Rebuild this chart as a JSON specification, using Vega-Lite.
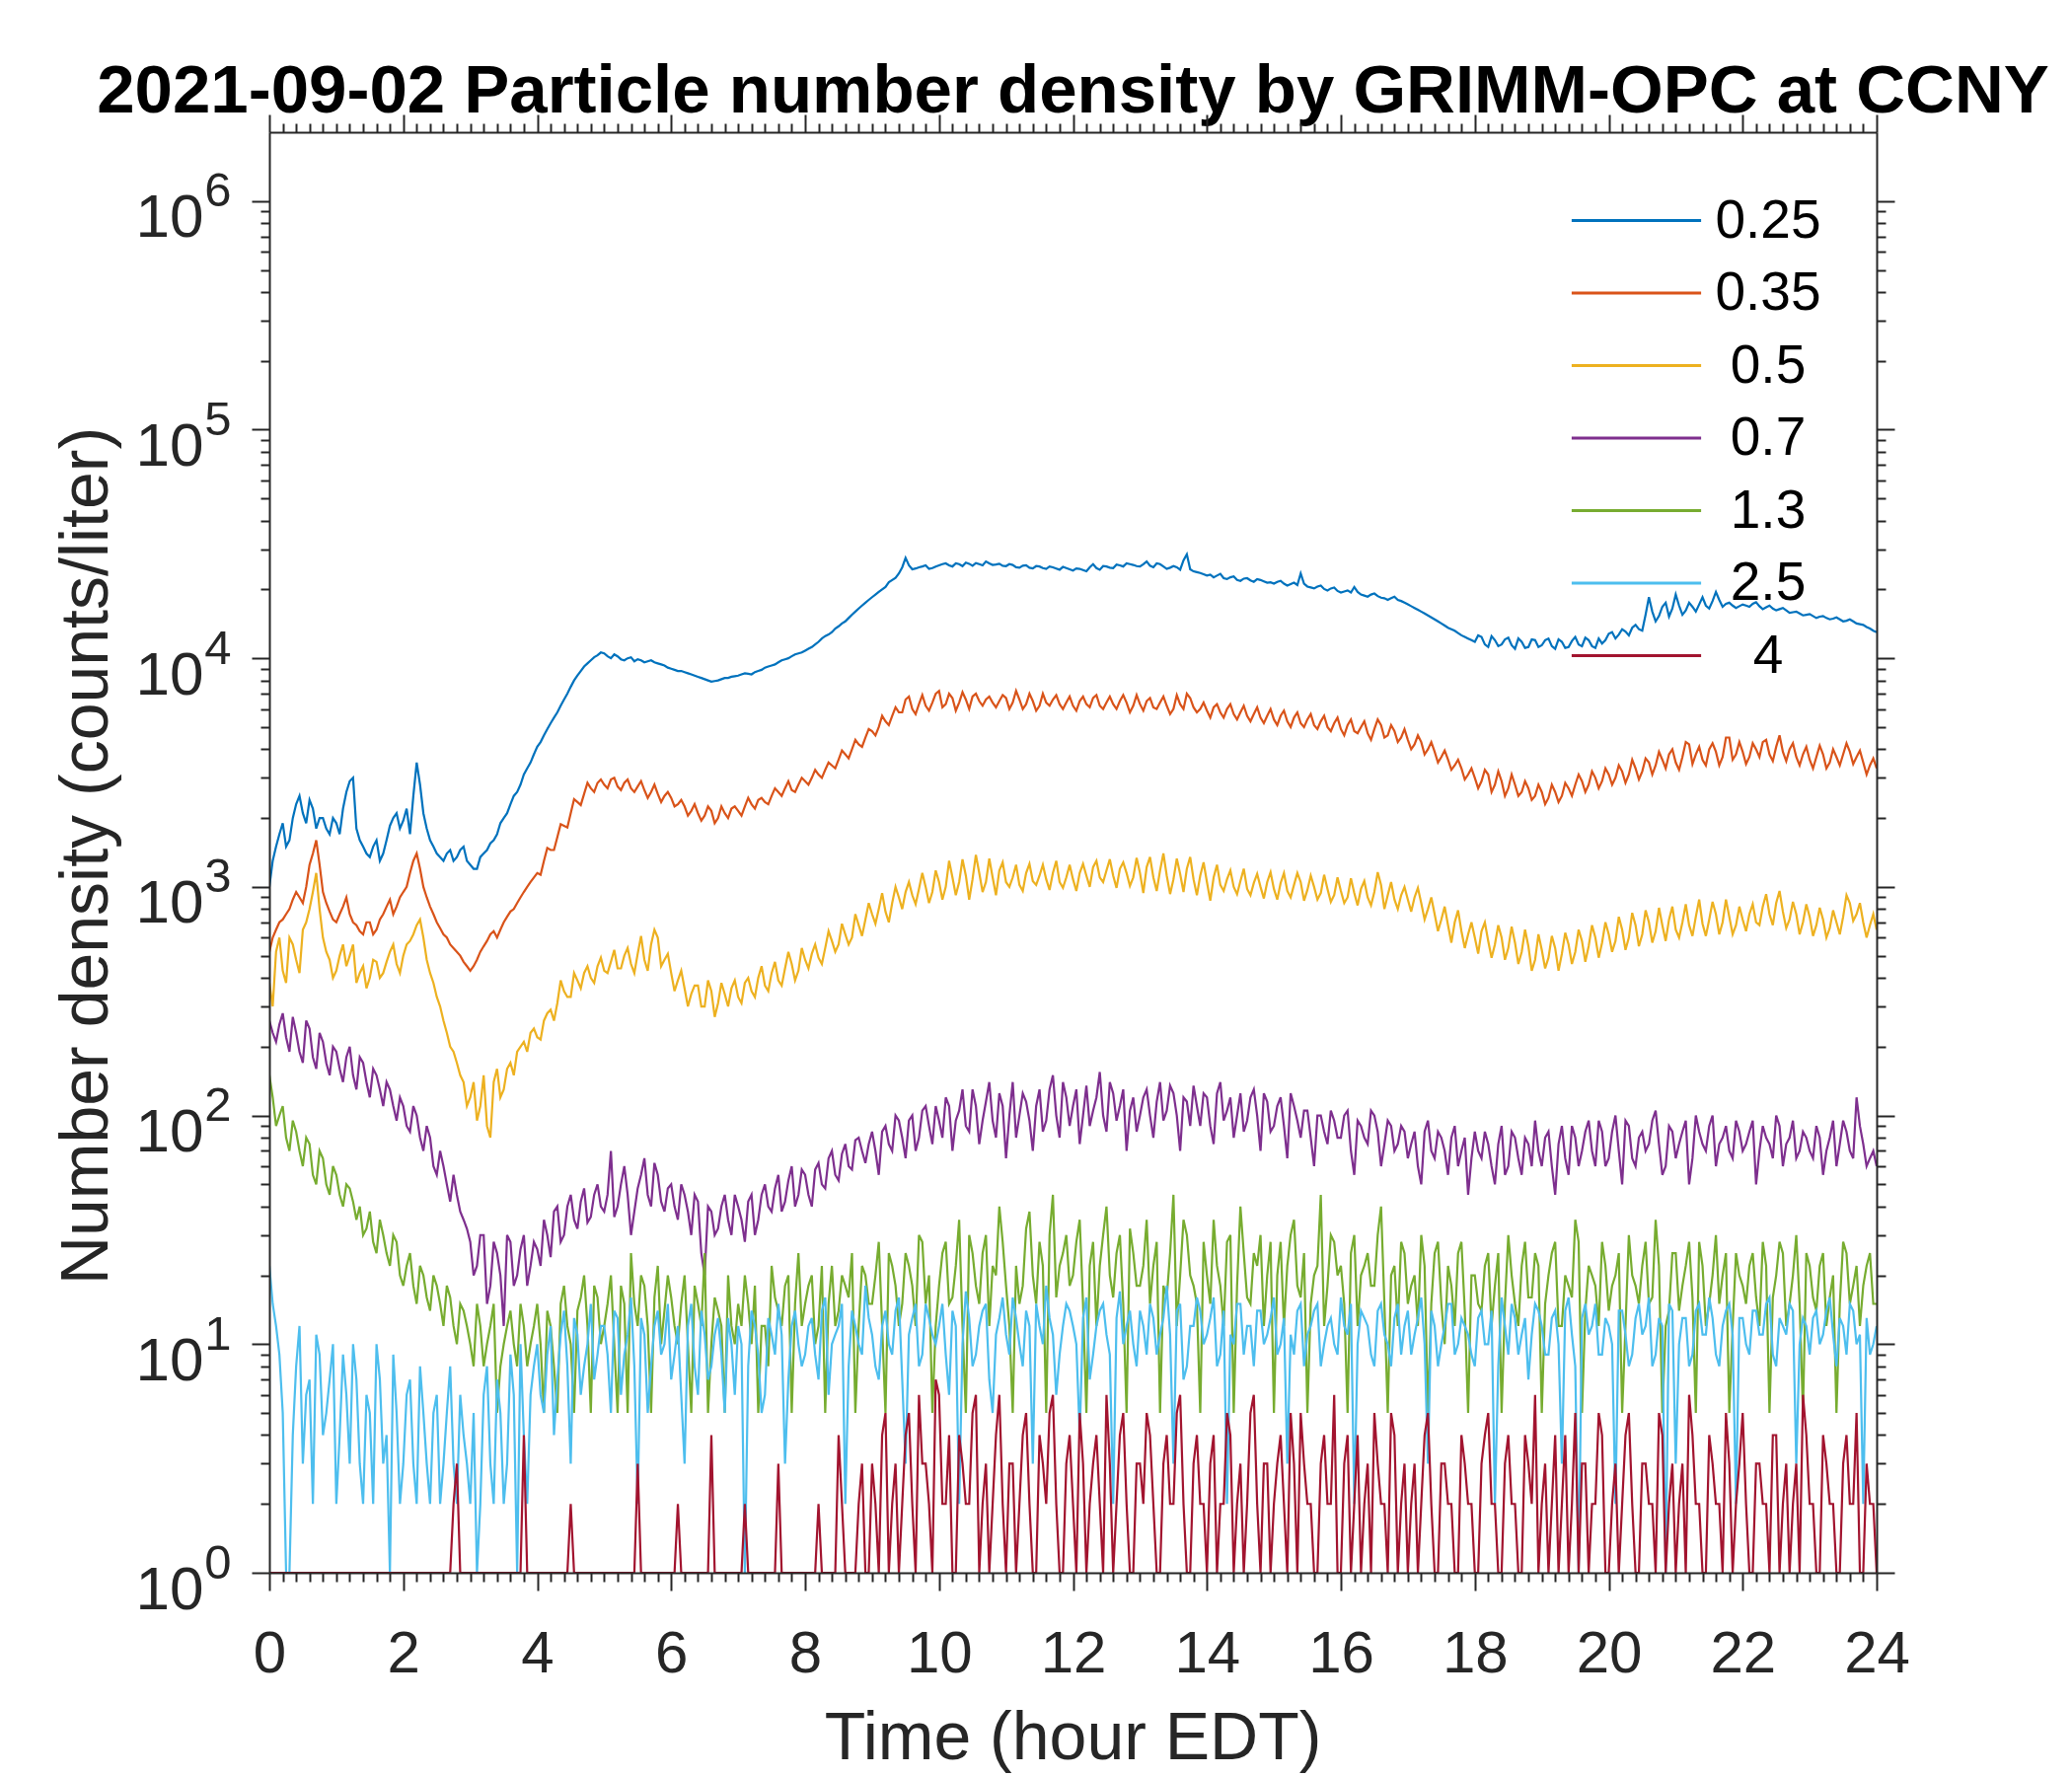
{
  "$schema": "https://vega.github.io/schema/vega-lite/v6.json",
  "width": 1629,
  "height": 1460,
  "autosize": "none",
  "padding": {"left": 273, "top": 134, "right": 198, "bottom": 206},
  "background": "white",
  "config": {"font": "Liberation Sans", "view": {"stroke": null}, "axis": {"grid": false}},
  "title": {
    "text": "2021-09-02 Particle number density by GRIMM-OPC at CCNY",
    "fontSize": 69, "fontWeight": "bold", "color": "#000000",
    "anchor": "middle", "frame": "group", "baseline": "alphabetic", "offset": -68
  },
  "data": {"values": [
{"t":0,"a":1000,"b":520,"c":380,"d":260,"e":150,"f":22,"g":1},
{"t":0.1,"a":1500,"b":650,"c":520,"d":210,"e":90,"f":12,"g":1},
{"t":0.2,"a":1900,"b":720,"c":430,"d":280,"e":110,"f":5,"g":1},
{"t":0.3,"a":1600,"b":800,"c":600,"d":190,"e":70,"f":1,"g":1},
{"t":0.4,"a":2300,"b":950,"c":480,"d":230,"e":85,"f":8,"g":1},
{"t":0.5,"a":2100,"b":850,"c":650,"d":170,"e":60,"f":3,"g":1},
{"t":0.6,"a":2400,"b":1250,"c":800,"d":240,"e":75,"f":7,"g":1},
{"t":0.7,"a":1800,"b":1600,"c":1150,"d":160,"e":50,"f":11,"g":1},
{"t":0.8,"a":2000,"b":950,"c":600,"d":210,"e":65,"f":4,"g":1},
{"t":0.9,"a":1700,"b":780,"c":480,"d":150,"e":45,"f":7,"g":1},
{"t":1,"a":1900,"b":700,"c":430,"d":190,"e":55,"f":2,"g":1},
{"t":1.1,"a":2200,"b":820,"c":560,"d":140,"e":40,"f":9,"g":1},
{"t":1.2,"a":2900,"b":760,"c":500,"d":200,"e":48,"f":3,"g":1},
{"t":1.3,"a":1800,"b":680,"c":380,"d":130,"e":35,"f":7,"g":1},
{"t":1.4,"a":1500,"b":620,"c":450,"d":170,"e":30,"f":2,"g":1},
{"t":1.5,"a":1350,"b":700,"c":400,"d":120,"e":38,"f":5,"g":1},
{"t":1.6,"a":1600,"b":650,"c":470,"d":150,"e":25,"f":10,"g":1},
{"t":1.7,"a":1400,"b":760,"c":420,"d":110,"e":30,"f":3,"g":1},
{"t":1.8,"a":1850,"b":880,"c":520,"d":130,"e":22,"f":1,"g":1},
{"t":1.9,"a":2100,"b":820,"c":460,"d":95,"e":28,"f":5,"g":1},
{"t":2,"a":1950,"b":950,"c":500,"d":110,"e":18,"f":3,"g":1},
{"t":2.1,"a":1700,"b":1150,"c":580,"d":85,"e":25,"f":7,"g":1},
{"t":2.2,"a":3500,"b":1400,"c":680,"d":100,"e":15,"f":2,"g":1},
{"t":2.3,"a":2100,"b":1000,"c":600,"d":70,"e":20,"f":5,"g":1},
{"t":2.4,"a":1600,"b":820,"c":420,"d":80,"e":14,"f":2,"g":1},
{"t":2.5,"a":1400,"b":700,"c":330,"d":55,"e":18,"f":6,"g":1},
{"t":2.6,"a":1300,"b":620,"c":260,"d":60,"e":12,"f":3,"g":1},
{"t":2.7,"a":1450,"b":560,"c":200,"d":42,"e":16,"f":8,"g":1},
{"t":2.8,"a":1350,"b":520,"c":170,"d":45,"e":10,"f":2,"g":3},
{"t":2.9,"a":1500,"b":470,"c":140,"d":35,"e":14,"f":4,"g":1},
{"t":3,"a":1250,"b":430,"c":120,"d":28,"e":10,"f":2,"g":1},
{"t":3.1,"a":1200,"b":480,"c":95,"d":22,"e":15,"f":1,"g":1},
{"t":3.2,"a":1400,"b":550,"c":150,"d":30,"e":8,"f":6,"g":1},
{"t":3.3,"a":1550,"b":620,"c":80,"d":18,"e":12,"f":3,"g":1},
{"t":3.4,"a":1700,"b":600,"c":160,"d":25,"e":5,"f":7,"g":1},
{"t":3.5,"a":2000,"b":700,"c":130,"d":12,"e":10,"f":2,"g":1},
{"t":3.6,"a":2300,"b":780,"c":170,"d":28,"e":14,"f":9,"g":1},
{"t":3.7,"a":2600,"b":850,"c":190,"d":20,"e":8,"f":1,"g":1},
{"t":3.8,"a":3100,"b":950,"c":210,"d":30,"e":12,"f":4,"g":4},
{"t":3.9,"a":3500,"b":1050,"c":230,"d":22,"e":10,"f":6,"g":1},
{"t":4,"a":4100,"b":1150,"c":220,"d":26,"e":15,"f":10,"g":1},
{"t":4.1,"a":4600,"b":1300,"c":260,"d":35,"e":5,"f":5,"g":1},
{"t":4.2,"a":5200,"b":1450,"c":290,"d":24,"e":12,"f":12,"g":1},
{"t":4.3,"a":5800,"b":1650,"c":310,"d":40,"e":5,"f":7,"g":1},
{"t":4.4,"a":6600,"b":1850,"c":350,"d":30,"e":18,"f":14,"g":1},
{"t":4.5,"a":7500,"b":2100,"c":330,"d":45,"e":10,"f":3,"g":2},
{"t":4.6,"a":8400,"b":2350,"c":390,"d":32,"e":14,"f":11,"g":1},
{"t":4.7,"a":9200,"b":2550,"c":420,"d":48,"e":20,"f":8,"g":1},
{"t":4.8,"a":9800,"b":2700,"c":400,"d":36,"e":5,"f":15,"g":1},
{"t":4.9,"a":10300,"b":2850,"c":450,"d":50,"e":16,"f":9,"g":1},
{"t":5,"a":10500,"b":2800,"c":430,"d":38,"e":12,"f":12,"g":1},
{"t":5.1,"a":10000,"b":2950,"c":470,"d":70,"e":20,"f":5,"g":1},
{"t":5.2,"a":10200,"b":2750,"c":440,"d":40,"e":5,"f":13,"g":1},
{"t":5.3,"a":9800,"b":2850,"c":500,"d":60,"e":15,"f":9,"g":1},
{"t":5.4,"a":10100,"b":2700,"c":460,"d":30,"e":25,"f":16,"g":1},
{"t":5.5,"a":9900,"b":2750,"c":510,"d":48,"e":12,"f":2,"g":3},
{"t":5.6,"a":9600,"b":2650,"c":480,"d":65,"e":18,"f":11,"g":1},
{"t":5.7,"a":9800,"b":2600,"c":560,"d":40,"e":5,"f":8,"g":1},
{"t":5.8,"a":9500,"b":2550,"c":600,"d":55,"e":22,"f":14,"g":1},
{"t":5.9,"a":9300,"b":2500,"c":480,"d":38,"e":14,"f":10,"g":1},
{"t":6,"a":9000,"b":2450,"c":420,"d":50,"e":16,"f":7,"g":1},
{"t":6.1,"a":8800,"b":2300,"c":390,"d":35,"e":10,"f":12,"g":2},
{"t":6.2,"a":8700,"b":2250,"c":360,"d":45,"e":20,"f":3,"g":1},
{"t":6.3,"a":8500,"b":2150,"c":340,"d":30,"e":5,"f":15,"g":1},
{"t":6.4,"a":8300,"b":2100,"c":370,"d":42,"e":15,"f":6,"g":1},
{"t":6.5,"a":8100,"b":2050,"c":300,"d":20,"e":25,"f":11,"g":1},
{"t":6.6,"a":7900,"b":2150,"c":350,"d":38,"e":10,"f":8,"g":4},
{"t":6.7,"a":8000,"b":2000,"c":310,"d":32,"e":14,"f":13,"g":1},
{"t":6.8,"a":8200,"b":2100,"c":340,"d":45,"e":5,"f":5,"g":1},
{"t":6.9,"a":8300,"b":2200,"c":360,"d":30,"e":12,"f":10,"g":1},
{"t":7,"a":8400,"b":2150,"c":330,"d":40,"e":15,"f":12,"g":1},
{"t":7.1,"a":8600,"b":2250,"c":380,"d":28,"e":20,"f":1,"g":2},
{"t":7.2,"a":8500,"b":2300,"c":350,"d":45,"e":10,"f":14,"g":1},
{"t":7.3,"a":8800,"b":2400,"c":400,"d":35,"e":5,"f":9,"g":1},
{"t":7.4,"a":9100,"b":2350,"c":370,"d":50,"e":12,"f":6,"g":1},
{"t":7.5,"a":9300,"b":2500,"c":420,"d":38,"e":22,"f":11,"g":1},
{"t":7.6,"a":9600,"b":2600,"c":390,"d":55,"e":14,"f":15,"g":3},
{"t":7.7,"a":9900,"b":2700,"c":440,"d":42,"e":18,"f":3,"g":1},
{"t":7.8,"a":10200,"b":2650,"c":460,"d":60,"e":5,"f":12,"g":1},
{"t":7.9,"a":10500,"b":2800,"c":430,"d":45,"e":25,"f":10,"g":1},
{"t":8,"a":10800,"b":2900,"c":480,"d":55,"e":15,"f":9,"g":1},
{"t":8.1,"a":11200,"b":3000,"c":510,"d":40,"e":20,"f":13,"g":1},
{"t":8.2,"a":11800,"b":3100,"c":490,"d":62,"e":12,"f":7,"g":2},
{"t":8.3,"a":12500,"b":3250,"c":540,"d":48,"e":5,"f":16,"g":1},
{"t":8.4,"a":13000,"b":3400,"c":580,"d":70,"e":22,"f":10,"g":1},
{"t":8.5,"a":13800,"b":3600,"c":560,"d":52,"e":14,"f":12,"g":4},
{"t":8.6,"a":14500,"b":3800,"c":620,"d":75,"e":18,"f":2,"g":1},
{"t":8.7,"a":15500,"b":4000,"c":600,"d":58,"e":25,"f":14,"g":1},
{"t":8.8,"a":16500,"b":4200,"c":680,"d":80,"e":12,"f":10,"g":2},
{"t":8.9,"a":17500,"b":4500,"c":720,"d":62,"e":20,"f":18,"g":1},
{"t":9,"a":18500,"b":4800,"c":760,"d":85,"e":15,"f":11,"g":3},
{"t":9.1,"a":19500,"b":5000,"c":800,"d":55,"e":28,"f":7,"g":1},
{"t":9.2,"a":20500,"b":5300,"c":780,"d":90,"e":5,"f":14,"g":5},
{"t":9.3,"a":22000,"b":5600,"c":850,"d":70,"e":22,"f":9,"g":2},
{"t":9.4,"a":23500,"b":5800,"c":900,"d":95,"e":12,"f":16,"g":1},
{"t":9.5,"a":27500,"b":6600,"c":950,"d":65,"e":25,"f":3,"g":4},
{"t":9.6,"a":24500,"b":6000,"c":920,"d":100,"e":18,"f":13,"g":2},
{"t":9.7,"a":25000,"b":6300,"c":980,"d":80,"e":30,"f":8,"g":6},
{"t":9.8,"a":25500,"b":6200,"c":1000,"d":110,"e":15,"f":15,"g":3},
{"t":9.9,"a":24800,"b":6400,"c":950,"d":75,"e":5,"f":11,"g":1},
{"t":10,"a":25500,"b":7200,"c":1050,"d":95,"e":18,"f":12,"g":6},
{"t":10.1,"a":26000,"b":6300,"c":1000,"d":120,"e":28,"f":9,"g":2},
{"t":10.2,"a":25200,"b":6700,"c":1100,"d":70,"e":16,"f":14,"g":1},
{"t":10.3,"a":25800,"b":6400,"c":1050,"d":105,"e":35,"f":2,"g":4},
{"t":10.4,"a":26200,"b":6600,"c":1120,"d":90,"e":5,"f":17,"g":2},
{"t":10.5,"a":25400,"b":6800,"c":1080,"d":130,"e":25,"f":8,"g":5},
{"t":10.6,"a":25800,"b":6500,"c":1150,"d":75,"e":15,"f":12,"g":1},
{"t":10.7,"a":26500,"b":6600,"c":1050,"d":115,"e":30,"f":15,"g":3},
{"t":10.8,"a":25600,"b":6400,"c":1100,"d":95,"e":22,"f":5,"g":2},
{"t":10.9,"a":25900,"b":6500,"c":1180,"d":125,"e":40,"f":13,"g":6},
{"t":11,"a":25300,"b":6700,"c":1050,"d":65,"e":18,"f":11,"g":1},
{"t":11.1,"a":25600,"b":6400,"c":1100,"d":140,"e":5,"f":16,"g":3},
{"t":11.2,"a":24900,"b":6600,"c":1020,"d":100,"e":15,"f":10,"g":2},
{"t":11.3,"a":25500,"b":6300,"c":1150,"d":115,"e":32,"f":14,"g":5},
{"t":11.4,"a":24700,"b":6500,"c":1060,"d":70,"e":20,"f":3,"g":1},
{"t":11.5,"a":25200,"b":6200,"c":1120,"d":130,"e":28,"f":12,"g":4},
{"t":11.6,"a":24600,"b":6400,"c":1080,"d":95,"e":5,"f":18,"g":2},
{"t":11.7,"a":25000,"b":6600,"c":1150,"d":150,"e":45,"f":11,"g":6},
{"t":11.8,"a":24400,"b":6300,"c":1050,"d":80,"e":22,"f":9,"g":1},
{"t":11.9,"a":24800,"b":6400,"c":1100,"d":120,"e":30,"f":15,"g":3},
{"t":12,"a":24200,"b":6200,"c":1080,"d":110,"e":20,"f":12,"g":2},
{"t":12.1,"a":24600,"b":6500,"c":1150,"d":75,"e":35,"f":4,"g":5},
{"t":12.2,"a":24000,"b":6300,"c":1120,"d":135,"e":5,"f":16,"g":1},
{"t":12.3,"a":25800,"b":6700,"c":1220,"d":105,"e":28,"f":9,"g":3},
{"t":12.4,"a":24400,"b":6200,"c":1100,"d":155,"e":22,"f":14,"g":2},
{"t":12.5,"a":25200,"b":6400,"c":1180,"d":85,"e":40,"f":11,"g":6},
{"t":12.6,"a":24800,"b":6300,"c":1120,"d":125,"e":16,"f":2,"g":1},
{"t":12.7,"a":25500,"b":6500,"c":1200,"d":110,"e":30,"f":17,"g":4},
{"t":12.8,"a":26000,"b":6400,"c":1150,"d":70,"e":5,"f":12,"g":2},
{"t":12.9,"a":25600,"b":6200,"c":1100,"d":120,"e":25,"f":10,"g":1},
{"t":13,"a":25200,"b":6300,"c":1150,"d":100,"e":18,"f":14,"g":3},
{"t":13.1,"a":26500,"b":6500,"c":1220,"d":130,"e":35,"f":9,"g":5},
{"t":13.2,"a":25000,"b":6100,"c":1100,"d":80,"e":22,"f":13,"g":2},
{"t":13.3,"a":25800,"b":6400,"c":1180,"d":140,"e":5,"f":11,"g":1},
{"t":13.4,"a":24600,"b":6200,"c":1120,"d":105,"e":16,"f":18,"g":4},
{"t":13.5,"a":25300,"b":6000,"c":1080,"d":125,"e":45,"f":3,"g":2},
{"t":13.6,"a":24400,"b":6300,"c":1140,"d":70,"e":20,"f":15,"g":6},
{"t":13.7,"a":28500,"b":7000,"c":1200,"d":115,"e":30,"f":8,"g":1},
{"t":13.8,"a":24000,"b":6100,"c":1080,"d":135,"e":18,"f":12,"g":3},
{"t":13.9,"a":23600,"b":6000,"c":1120,"d":90,"e":5,"f":14,"g":2},
{"t":14,"a":23000,"b":5900,"c":1050,"d":120,"e":20,"f":11,"g":1},
{"t":14.1,"a":22600,"b":6100,"c":1100,"d":75,"e":35,"f":16,"g":4},
{"t":14.2,"a":23400,"b":5800,"c":1020,"d":140,"e":18,"f":9,"g":2},
{"t":14.3,"a":22200,"b":6000,"c":1080,"d":105,"e":28,"f":2,"g":5},
{"t":14.4,"a":22800,"b":5700,"c":1000,"d":80,"e":5,"f":10,"g":1},
{"t":14.5,"a":21800,"b":5800,"c":1060,"d":125,"e":40,"f":15,"g":3},
{"t":14.6,"a":22400,"b":5600,"c":980,"d":95,"e":16,"f":12,"g":2},
{"t":14.7,"a":21600,"b":5700,"c":1040,"d":130,"e":25,"f":8,"g":6},
{"t":14.8,"a":22000,"b":5500,"c":1000,"d":70,"e":30,"f":14,"g":1},
{"t":14.9,"a":21400,"b":5600,"c":1050,"d":115,"e":20,"f":11,"g":3},
{"t":15,"a":21200,"b":5400,"c":980,"d":90,"e":5,"f":16,"g":2},
{"t":15.1,"a":21800,"b":5600,"c":1040,"d":120,"e":28,"f":10,"g":4},
{"t":15.2,"a":20800,"b":5300,"c":960,"d":65,"e":22,"f":3,"g":1},
{"t":15.3,"a":21400,"b":5500,"c":1020,"d":110,"e":35,"f":9,"g":3},
{"t":15.4,"a":23500,"b":5200,"c":1050,"d":80,"e":16,"f":15,"g":5},
{"t":15.5,"a":20600,"b":5400,"c":970,"d":105,"e":5,"f":11,"g":2},
{"t":15.6,"a":20200,"b":5100,"c":1000,"d":60,"e":20,"f":14,"g":1},
{"t":15.7,"a":20800,"b":5300,"c":940,"d":100,"e":45,"f":8,"g":3},
{"t":15.8,"a":19800,"b":5000,"c":980,"d":75,"e":18,"f":12,"g":2},
{"t":15.9,"a":20400,"b":5200,"c":920,"d":95,"e":28,"f":10,"g":6},
{"t":16,"a":19400,"b":4900,"c":960,"d":80,"e":22,"f":16,"g":1},
{"t":16.1,"a":19800,"b":5100,"c":900,"d":105,"e":5,"f":11,"g":4},
{"t":16.2,"a":20500,"b":4800,"c":940,"d":55,"e":30,"f":2,"g":2},
{"t":16.3,"a":19000,"b":5000,"c":980,"d":90,"e":20,"f":14,"g":1},
{"t":16.4,"a":18600,"b":4700,"c":900,"d":75,"e":25,"f":12,"g":3},
{"t":16.5,"a":19200,"b":4900,"c":950,"d":100,"e":18,"f":8,"g":5},
{"t":16.6,"a":18400,"b":5100,"c":1020,"d":60,"e":40,"f":15,"g":2},
{"t":16.7,"a":18000,"b":4600,"c":920,"d":95,"e":5,"f":10,"g":1},
{"t":16.8,"a":18600,"b":4800,"c":880,"d":70,"e":22,"f":13,"g":4},
{"t":16.9,"a":17800,"b":4500,"c":920,"d":90,"e":28,"f":9,"g":2},
{"t":17,"a":17200,"b":4400,"c":880,"d":65,"e":15,"f":14,"g":1},
{"t":17.1,"a":16600,"b":4200,"c":900,"d":85,"e":20,"f":11,"g":3},
{"t":17.2,"a":16000,"b":4300,"c":850,"d":50,"e":30,"f":16,"g":2},
{"t":17.3,"a":15400,"b":4000,"c":800,"d":95,"e":5,"f":3,"g":5},
{"t":17.4,"a":14800,"b":3900,"c":760,"d":65,"e":25,"f":12,"g":1},
{"t":17.5,"a":14200,"b":3700,"c":720,"d":80,"e":15,"f":10,"g":3},
{"t":17.6,"a":13600,"b":3600,"c":680,"d":55,"e":22,"f":15,"g":2},
{"t":17.7,"a":13200,"b":3400,"c":700,"d":90,"e":12,"f":9,"g":1},
{"t":17.8,"a":12600,"b":3300,"c":640,"d":70,"e":28,"f":13,"g":4},
{"t":17.9,"a":12200,"b":3100,"c":620,"d":45,"e":5,"f":11,"g":2},
{"t":18,"a":11800,"b":3000,"c":600,"d":85,"e":20,"f":8,"g":1},
{"t":18.1,"a":12400,"b":2900,"c":640,"d":65,"e":14,"f":14,"g":3},
{"t":18.2,"a":11200,"b":3100,"c":580,"d":75,"e":25,"f":10,"g":5},
{"t":18.3,"a":12000,"b":2800,"c":560,"d":50,"e":18,"f":2,"g":2},
{"t":18.4,"a":11500,"b":2900,"c":600,"d":90,"e":5,"f":16,"g":1},
{"t":18.5,"a":12300,"b":2700,"c":540,"d":60,"e":30,"f":9,"g":4},
{"t":18.6,"a":11000,"b":2800,"c":570,"d":80,"e":15,"f":13,"g":2},
{"t":18.7,"a":11800,"b":2600,"c":520,"d":55,"e":22,"f":11,"g":1},
{"t":18.8,"a":11200,"b":2700,"c":550,"d":75,"e":16,"f":7,"g":3},
{"t":18.9,"a":12000,"b":2500,"c":480,"d":95,"e":25,"f":15,"g":6},
{"t":19,"a":11400,"b":2600,"c":530,"d":60,"e":5,"f":12,"g":2},
{"t":19.1,"a":12200,"b":2450,"c":490,"d":85,"e":20,"f":9,"g":1},
{"t":19.2,"a":11000,"b":2600,"c":540,"d":45,"e":28,"f":14,"g":4},
{"t":19.3,"a":11800,"b":2500,"c":510,"d":90,"e":12,"f":3,"g":2},
{"t":19.4,"a":11200,"b":2700,"c":560,"d":55,"e":18,"f":16,"g":1},
{"t":19.5,"a":12400,"b":2800,"c":520,"d":80,"e":35,"f":8,"g":5},
{"t":19.6,"a":11300,"b":2900,"c":580,"d":70,"e":5,"f":13,"g":3},
{"t":19.7,"a":12000,"b":2800,"c":550,"d":95,"e":22,"f":11,"g":1},
{"t":19.8,"a":11100,"b":3000,"c":600,"d":60,"e":18,"f":15,"g":2},
{"t":19.9,"a":11600,"b":2900,"c":570,"d":85,"e":28,"f":9,"g":4},
{"t":20,"a":12800,"b":3100,"c":620,"d":65,"e":14,"f":12,"g":1},
{"t":20.1,"a":12200,"b":3000,"c":580,"d":100,"e":20,"f":2,"g":3},
{"t":20.2,"a":13400,"b":3200,"c":650,"d":50,"e":5,"f":14,"g":2},
{"t":20.3,"a":12600,"b":3100,"c":600,"d":90,"e":30,"f":8,"g":5},
{"t":20.4,"a":14000,"b":3300,"c":680,"d":60,"e":18,"f":13,"g":1},
{"t":20.5,"a":13200,"b":3200,"c":620,"d":85,"e":22,"f":11,"g":3},
{"t":20.6,"a":18500,"b":3500,"c":700,"d":75,"e":15,"f":16,"g":2},
{"t":20.7,"a":14500,"b":3400,"c":640,"d":105,"e":35,"f":9,"g":1},
{"t":20.8,"a":16800,"b":3600,"c":680,"d":55,"e":5,"f":12,"g":4},
{"t":20.9,"a":15200,"b":3800,"c":720,"d":90,"e":14,"f":15,"g":2},
{"t":21,"a":19000,"b":3500,"c":650,"d":65,"e":25,"f":3,"g":1},
{"t":21.1,"a":15500,"b":3700,"c":700,"d":85,"e":18,"f":13,"g":3},
{"t":21.2,"a":17500,"b":4200,"c":680,"d":50,"e":28,"f":8,"g":6},
{"t":21.3,"a":16000,"b":3800,"c":740,"d":100,"e":5,"f":14,"g":2},
{"t":21.4,"a":18500,"b":3600,"c":690,"d":75,"e":22,"f":11,"g":1},
{"t":21.5,"a":16500,"b":4000,"c":720,"d":90,"e":15,"f":16,"g":4},
{"t":21.6,"a":19500,"b":3900,"c":760,"d":60,"e":30,"f":9,"g":2},
{"t":21.7,"a":16800,"b":3700,"c":700,"d":80,"e":20,"f":12,"g":1},
{"t":21.8,"a":17500,"b":4500,"c":740,"d":70,"e":5,"f":15,"g":3},
{"t":21.9,"a":16600,"b":3800,"c":680,"d":95,"e":25,"f":2,"g":2},
{"t":22,"a":17200,"b":3900,"c":720,"d":70,"e":18,"f":13,"g":5},
{"t":22.1,"a":16800,"b":3700,"c":760,"d":85,"e":22,"f":9,"g":1},
{"t":22.2,"a":17600,"b":4000,"c":700,"d":50,"e":16,"f":14,"g":3},
{"t":22.3,"a":16400,"b":4300,"c":820,"d":90,"e":28,"f":11,"g":2},
{"t":22.4,"a":17000,"b":3800,"c":760,"d":75,"e":5,"f":16,"g":1},
{"t":22.5,"a":16200,"b":4100,"c":850,"d":100,"e":20,"f":8,"g":4},
{"t":22.6,"a":16600,"b":3900,"c":780,"d":60,"e":25,"f":12,"g":2},
{"t":22.7,"a":15800,"b":4000,"c":720,"d":80,"e":15,"f":15,"g":1},
{"t":22.8,"a":16000,"b":3700,"c":760,"d":65,"e":30,"f":3,"g":3},
{"t":22.9,"a":15400,"b":3800,"c":700,"d":85,"e":5,"f":13,"g":6},
{"t":23,"a":15600,"b":3600,"c":740,"d":70,"e":22,"f":9,"g":2},
{"t":23.1,"a":15000,"b":3700,"c":680,"d":90,"e":14,"f":14,"g":1},
{"t":23.2,"a":15300,"b":3800,"c":720,"d":55,"e":25,"f":11,"g":4},
{"t":23.3,"a":14800,"b":3500,"c":660,"d":80,"e":16,"f":16,"g":2},
{"t":23.4,"a":15100,"b":3700,"c":700,"d":60,"e":5,"f":8,"g":1},
{"t":23.5,"a":14500,"b":3800,"c":740,"d":95,"e":28,"f":12,"g":3},
{"t":23.6,"a":14800,"b":3900,"c":850,"d":70,"e":15,"f":15,"g":2},
{"t":23.7,"a":14200,"b":3700,"c":760,"d":120,"e":22,"f":10,"g":5},
{"t":23.8,"a":14000,"b":3500,"c":700,"d":75,"e":18,"f":2,"g":1},
{"t":23.9,"a":13500,"b":3400,"c":680,"d":65,"e":25,"f":9,"g":2},
{"t":24,"a":13000,"b":3300,"c":650,"d":60,"e":15,"f":12,"g":1},
{"t":0.05,"a":1300,"b":600,"c":300,"d":230,"e":120,"f":15,"g":1},
{"t":0.15,"a":1700,"b":700,"c":600,"d":250,"e":100,"f":9,"g":1},
{"t":0.25,"a":1500,"b":760,"c":380,"d":220,"e":80,"f":1,"g":1},
{"t":0.35,"a":2000,"b":880,"c":560,"d":270,"e":95,"f":4,"g":1},
{"t":0.45,"a":2500,"b":900,"c":420,"d":190,"e":70,"f":12,"g":1},
{"t":0.55,"a":1900,"b":1000,"c":700,"d":260,"e":80,"f":6,"g":1},
{"t":0.65,"a":2200,"b":1400,"c":950,"d":180,"e":55,"f":2,"g":1},
{"t":0.75,"a":2000,"b":1250,"c":800,"d":230,"e":70,"f":9,"g":1},
{"t":0.85,"a":1800,"b":850,"c":520,"d":170,"e":50,"f":5,"g":1},
{"t":0.95,"a":2000,"b":720,"c":400,"d":200,"e":60,"f":10,"g":1},
{"t":1.05,"a":1700,"b":760,"c":500,"d":160,"e":45,"f":4,"g":1},
{"t":1.15,"a":2600,"b":900,"c":450,"d":180,"e":50,"f":6,"g":1},
{"t":1.25,"a":3000,"b":700,"c":560,"d":150,"e":42,"f":10,"g":1},
{"t":1.35,"a":1600,"b":640,"c":420,"d":180,"e":40,"f":3,"g":1},
{"t":1.45,"a":1400,"b":700,"c":360,"d":140,"e":32,"f":6,"g":1},
{"t":1.55,"a":1500,"b":620,"c":480,"d":160,"e":28,"f":2,"g":1},
{"t":1.65,"a":1300,"b":720,"c":400,"d":130,"e":35,"f":7,"g":1},
{"t":1.75,"a":1600,"b":820,"c":470,"d":140,"e":25,"f":4,"g":1},
{"t":1.85,"a":2000,"b":760,"c":560,"d":110,"e":30,"f":9,"g":1},
{"t":1.95,"a":1800,"b":900,"c":420,"d":120,"e":20,"f":2,"g":1},
{"t":2.05,"a":2200,"b":1000,"c":560,"d":90,"e":22,"f":6,"g":1},
{"t":2.15,"a":2500,"b":1300,"c":620,"d":110,"e":18,"f":3,"g":1},
{"t":2.25,"a":2800,"b":1200,"c":720,"d":80,"e":22,"f":8,"g":1},
{"t":2.35,"a":1800,"b":900,"c":480,"d":90,"e":16,"f":3,"g":1},
{"t":2.45,"a":1500,"b":760,"c":380,"d":60,"e":20,"f":5,"g":1},
{"t":2.55,"a":1350,"b":660,"c":300,"d":70,"e":15,"f":2,"g":1},
{"t":2.65,"a":1400,"b":600,"c":230,"d":50,"e":18,"f":5,"g":1},
{"t":2.75,"a":1300,"b":540,"c":190,"d":55,"e":12,"f":3,"g":2},
{"t":2.85,"a":1450,"b":500,"c":150,"d":38,"e":15,"f":6,"g":1},
{"t":2.95,"a":1300,"b":450,"c":110,"d":32,"e":12,"f":3,"g":1},
{"t":3.05,"a":1200,"b":450,"c":140,"d":20,"e":8,"f":5,"g":1},
{"t":3.15,"a":1350,"b":520,"c":110,"d":30,"e":12,"f":2,"g":1},
{"t":3.25,"a":1450,"b":580,"c":90,"d":15,"e":10,"f":8,"g":1},
{"t":3.35,"a":1600,"b":640,"c":140,"d":28,"e":15,"f":2,"g":1},
{"t":3.45,"a":1900,"b":650,"c":120,"d":20,"e":8,"f":5,"g":1},
{"t":3.55,"a":2100,"b":740,"c":160,"d":30,"e":12,"f":3,"g":1},
{"t":3.65,"a":2500,"b":800,"c":150,"d":18,"e":10,"f":6,"g":1},
{"t":3.75,"a":2800,"b":900,"c":200,"d":26,"e":15,"f":10,"g":1},
{"t":3.85,"a":3300,"b":1000,"c":190,"d":18,"e":8,"f":2,"g":1},
{"t":3.95,"a":3800,"b":1100,"c":240,"d":28,"e":12,"f":8,"g":1},
{"t":4.05,"a":4300,"b":1130,"c":215,"d":22,"e":10,"f":6,"g":1},
{"t":4.15,"a":4900,"b":1480,"c":280,"d":30,"e":14,"f":9,"g":1},
{"t":4.25,"a":5500,"b":1450,"c":260,"d":38,"e":8,"f":4,"g":1},
{"t":4.35,"a":6200,"b":1880,"c":390,"d":28,"e":15,"f":11,"g":1},
{"t":4.45,"a":7000,"b":1820,"c":330,"d":40,"e":12,"f":8,"g":1},
{"t":4.55,"a":8000,"b":2420,"c":420,"d":35,"e":5,"f":13,"g":1},
{"t":4.65,"a":8800,"b":2280,"c":360,"d":42,"e":16,"f":6,"g":1},
{"t":4.75,"a":9500,"b":2850,"c":450,"d":34,"e":12,"f":10,"g":1},
{"t":4.85,"a":10100,"b":2600,"c":380,"d":45,"e":18,"f":7,"g":1},
{"t":4.95,"a":10600,"b":2950,"c":490,"d":40,"e":10,"f":12,"g":1},
{"t":5.05,"a":10200,"b":2700,"c":420,"d":45,"e":15,"f":9,"g":1},
{"t":5.15,"a":10400,"b":3000,"c":530,"d":36,"e":10,"f":14,"g":1},
{"t":5.25,"a":9900,"b":2650,"c":440,"d":50,"e":18,"f":6,"g":1},
{"t":5.35,"a":10000,"b":2950,"c":540,"d":45,"e":5,"f":11,"g":1},
{"t":5.45,"a":9700,"b":2600,"c":420,"d":38,"e":15,"f":8,"g":1},
{"t":5.55,"a":9800,"b":2900,"c":610,"d":55,"e":20,"f":13,"g":1},
{"t":5.65,"a":9700,"b":2450,"c":430,"d":45,"e":12,"f":5,"g":1},
{"t":5.75,"a":9600,"b":2800,"c":650,"d":62,"e":16,"f":12,"g":1},
{"t":5.85,"a":9400,"b":2350,"c":450,"d":42,"e":10,"f":9,"g":1},
{"t":5.95,"a":9100,"b":2600,"c":510,"d":48,"e":20,"f":15,"g":1},
{"t":6.05,"a":8900,"b":2250,"c":350,"d":40,"e":12,"f":9,"g":1},
{"t":6.15,"a":8800,"b":2400,"c":430,"d":50,"e":15,"f":6,"g":1},
{"t":6.25,"a":8600,"b":2050,"c":300,"d":38,"e":10,"f":12,"g":1},
{"t":6.35,"a":8400,"b":2300,"c":370,"d":45,"e":18,"f":8,"g":1},
{"t":6.45,"a":8200,"b":1950,"c":300,"d":25,"e":12,"f":14,"g":1},
{"t":6.55,"a":8000,"b":2250,"c":390,"d":40,"e":5,"f":7,"g":1},
{"t":6.65,"a":7950,"b":1900,"c":270,"d":30,"e":16,"f":11,"g":1},
{"t":6.75,"a":8100,"b":2250,"c":380,"d":40,"e":12,"f":9,"g":1},
{"t":6.85,"a":8200,"b":2000,"c":300,"d":35,"e":20,"f":13,"g":1},
{"t":6.95,"a":8350,"b":2250,"c":390,"d":45,"e":10,"f":6,"g":1},
{"t":7.05,"a":8500,"b":2050,"c":310,"d":35,"e":12,"f":10,"g":1},
{"t":7.15,"a":8550,"b":2450,"c":400,"d":42,"e":15,"f":8,"g":1},
{"t":7.25,"a":8700,"b":2200,"c":330,"d":30,"e":18,"f":12,"g":1},
{"t":7.35,"a":8900,"b":2450,"c":450,"d":45,"e":12,"f":5,"g":1},
{"t":7.45,"a":9200,"b":2300,"c":350,"d":40,"e":8,"f":13,"g":1},
{"t":7.55,"a":9400,"b":2700,"c":470,"d":48,"e":16,"f":9,"g":1},
{"t":7.65,"a":9800,"b":2500,"c":370,"d":38,"e":12,"f":11,"g":1},
{"t":7.75,"a":10000,"b":2900,"c":520,"d":52,"e":20,"f":7,"g":1},
{"t":7.85,"a":10400,"b":2600,"c":390,"d":40,"e":15,"f":14,"g":1},
{"t":7.95,"a":10600,"b":3000,"c":540,"d":58,"e":12,"f":8,"g":1},
{"t":8.05,"a":11000,"b":2800,"c":440,"d":45,"e":18,"f":12,"g":1},
{"t":8.15,"a":11500,"b":3250,"c":560,"d":58,"e":10,"f":9,"g":1},
{"t":8.25,"a":12200,"b":3000,"c":460,"d":50,"e":22,"f":14,"g":1},
{"t":8.35,"a":12700,"b":3500,"c":640,"d":65,"e":15,"f":6,"g":1},
{"t":8.45,"a":13500,"b":3300,"c":520,"d":55,"e":12,"f":11,"g":1},
{"t":8.55,"a":14200,"b":3950,"c":690,"d":68,"e":20,"f":15,"g":2},
{"t":8.65,"a":15000,"b":3650,"c":560,"d":60,"e":16,"f":8,"g":1},
{"t":8.75,"a":16000,"b":4400,"c":760,"d":78,"e":5,"f":12,"g":1},
{"t":8.85,"a":17000,"b":4100,"c":610,"d":70,"e":22,"f":9,"g":3},
{"t":8.95,"a":18000,"b":4900,"c":850,"d":75,"e":15,"f":13,"g":1},
{"t":9.05,"a":19000,"b":4600,"c":690,"d":70,"e":20,"f":8,"g":2},
{"t":9.15,"a":20000,"b":5600,"c":940,"d":85,"e":12,"f":12,"g":4},
{"t":9.25,"a":21500,"b":5100,"c":700,"d":75,"e":25,"f":10,"g":1},
{"t":9.35,"a":22500,"b":6100,"c":1000,"d":100,"e":18,"f":14,"g":3},
{"t":9.45,"a":25000,"b":5800,"c":800,"d":80,"e":15,"f":7,"g":2},
{"t":9.55,"a":25500,"b":6800,"c":1050,"d":95,"e":22,"f":11,"g":5},
{"t":9.65,"a":24700,"b":5700,"c":840,"d":70,"e":12,"f":15,"g":1},
{"t":9.75,"a":25200,"b":6900,"c":1150,"d":105,"e":28,"f":9,"g":3},
{"t":9.85,"a":24600,"b":5900,"c":850,"d":90,"e":20,"f":13,"g":2},
{"t":9.95,"a":25200,"b":7000,"c":1180,"d":110,"e":12,"f":10,"g":7},
{"t":10.05,"a":25800,"b":6100,"c":880,"d":80,"e":25,"f":15,"g":2},
{"t":10.15,"a":25500,"b":7000,"c":1300,"d":110,"e":15,"f":6,"g":4},
{"t":10.25,"a":26000,"b":5900,"c":920,"d":95,"e":22,"f":12,"g":1},
{"t":10.35,"a":25300,"b":7100,"c":1320,"d":130,"e":12,"f":10,"g":3},
{"t":10.45,"a":25900,"b":6000,"c":880,"d":85,"e":30,"f":13,"g":2},
{"t":10.55,"a":26100,"b":7000,"c":1380,"d":110,"e":18,"f":9,"g":6},
{"t":10.65,"a":25500,"b":6200,"c":950,"d":95,"e":25,"f":14,"g":2},
{"t":10.75,"a":26000,"b":6800,"c":1330,"d":140,"e":12,"f":7,"g":1},
{"t":10.85,"a":25700,"b":6100,"c":920,"d":80,"e":20,"f":11,"g":4},
{"t":10.95,"a":25400,"b":6900,"c":1280,"d":110,"e":28,"f":16,"g":2},
{"t":11.05,"a":25800,"b":6000,"c":1000,"d":100,"e":12,"f":9,"g":3},
{"t":11.15,"a":25000,"b":7200,"c":1250,"d":80,"e":22,"f":13,"g":1},
{"t":11.25,"a":25400,"b":6000,"c":960,"d":125,"e":18,"f":8,"g":4},
{"t":11.35,"a":24900,"b":7000,"c":1260,"d":95,"e":38,"f":12,"g":2},
{"t":11.45,"a":25300,"b":5900,"c":1020,"d":110,"e":15,"f":15,"g":1},
{"t":11.55,"a":24800,"b":7000,"c":1250,"d":85,"e":22,"f":10,"g":3},
{"t":11.65,"a":25200,"b":6200,"c":970,"d":130,"e":30,"f":13,"g":5},
{"t":11.75,"a":24700,"b":6900,"c":1300,"d":100,"e":16,"f":6,"g":2},
{"t":11.85,"a":25100,"b":6000,"c":990,"d":140,"e":25,"f":12,"g":1},
{"t":11.95,"a":24500,"b":6800,"c":1250,"d":90,"e":18,"f":14,"g":4},
{"t":12.05,"a":24700,"b":5900,"c":960,"d":130,"e":28,"f":10,"g":1},
{"t":12.15,"a":24300,"b":6800,"c":1260,"d":100,"e":15,"f":13,"g":3},
{"t":12.25,"a":25000,"b":6100,"c":1000,"d":90,"e":22,"f":7,"g":2},
{"t":12.35,"a":24800,"b":6900,"c":1300,"d":120,"e":12,"f":12,"g":4},
{"t":12.45,"a":25300,"b":6000,"c":1050,"d":100,"e":30,"f":15,"g":1},
{"t":12.55,"a":24900,"b":6800,"c":1320,"d":140,"e":20,"f":9,"g":3},
{"t":12.65,"a":25700,"b":6000,"c":990,"d":95,"e":25,"f":13,"g":2},
{"t":12.75,"a":25200,"b":6900,"c":1280,"d":130,"e":15,"f":10,"g":5},
{"t":12.85,"a":25800,"b":5800,"c":1010,"d":105,"e":32,"f":14,"g":1},
{"t":12.95,"a":25300,"b":6900,"c":1340,"d":85,"e":18,"f":8,"g":3},
{"t":13.05,"a":25800,"b":5900,"c":940,"d":120,"e":22,"f":12,"g":2},
{"t":13.15,"a":25400,"b":6700,"c":1350,"d":100,"e":15,"f":15,"g":4},
{"t":13.25,"a":26000,"b":6000,"c":960,"d":115,"e":28,"f":9,"g":1},
{"t":13.35,"a":25200,"b":6800,"c":1400,"d":95,"e":18,"f":13,"g":3},
{"t":13.45,"a":24900,"b":5700,"c":930,"d":135,"e":25,"f":11,"g":2},
{"t":13.55,"a":25000,"b":6900,"c":1330,"d":100,"e":12,"f":14,"g":5},
{"t":13.65,"a":26800,"b":6000,"c":950,"d":120,"e":35,"f":7,"g":2},
{"t":13.75,"a":24500,"b":6700,"c":1350,"d":90,"e":20,"f":12,"g":1},
{"t":13.85,"a":23800,"b":5800,"c":920,"d":110,"e":15,"f":16,"g":4},
{"t":13.95,"a":23300,"b":6400,"c":1280,"d":125,"e":28,"f":10,"g":2},
{"t":14.05,"a":23200,"b":5500,"c":870,"d":90,"e":15,"f":13,"g":3},
{"t":14.15,"a":23000,"b":6300,"c":1250,"d":125,"e":22,"f":8,"g":1},
{"t":14.25,"a":22400,"b":5500,"c":960,"d":95,"e":12,"f":14,"g":2},
{"t":14.35,"a":22600,"b":6300,"c":1180,"d":120,"e":30,"f":11,"g":4},
{"t":14.45,"a":22000,"b":5400,"c":930,"d":100,"e":18,"f":15,"g":2},
{"t":14.55,"a":22300,"b":6200,"c":1200,"d":85,"e":25,"f":9,"g":1},
{"t":14.65,"a":21900,"b":5300,"c":920,"d":120,"e":15,"f":12,"g":5},
{"t":14.75,"a":22200,"b":6100,"c":1140,"d":100,"e":22,"f":14,"g":2},
{"t":14.85,"a":21700,"b":5200,"c":890,"d":125,"e":12,"f":10,"g":3},
{"t":14.95,"a":21500,"b":6000,"c":1160,"d":85,"e":28,"f":13,"g":1},
{"t":15.05,"a":21600,"b":5100,"c":880,"d":110,"e":20,"f":9,"g":3},
{"t":15.15,"a":21200,"b":5900,"c":1150,"d":90,"e":12,"f":13,"g":2},
{"t":15.25,"a":21100,"b":5000,"c":900,"d":125,"e":30,"f":11,"g":5},
{"t":15.35,"a":20900,"b":5800,"c":1150,"d":95,"e":18,"f":14,"g":1},
{"t":15.45,"a":21200,"b":5000,"c":870,"d":105,"e":25,"f":8,"g":3},
{"t":15.55,"a":20400,"b":5700,"c":1120,"d":80,"e":15,"f":12,"g":2},
{"t":15.65,"a":20600,"b":4900,"c":880,"d":100,"e":22,"f":15,"g":1},
{"t":15.75,"a":20100,"b":5600,"c":1130,"d":85,"e":12,"f":10,"g":4},
{"t":15.85,"a":20200,"b":4800,"c":860,"d":105,"e":30,"f":13,"g":2},
{"t":15.95,"a":19700,"b":5500,"c":1100,"d":80,"e":20,"f":9,"g":1},
{"t":16.05,"a":19600,"b":4600,"c":850,"d":100,"e":15,"f":12,"g":3},
{"t":16.15,"a":19400,"b":5400,"c":1090,"d":70,"e":25,"f":15,"g":1},
{"t":16.25,"a":19500,"b":4700,"c":830,"d":95,"e":12,"f":10,"g":4},
{"t":16.35,"a":18800,"b":5300,"c":1060,"d":80,"e":22,"f":13,"g":2},
{"t":16.45,"a":19000,"b":4400,"c":830,"d":105,"e":18,"f":9,"g":1},
{"t":16.55,"a":18700,"b":5400,"c":1160,"d":85,"e":30,"f":14,"g":3},
{"t":16.65,"a":18300,"b":4500,"c":800,"d":75,"e":15,"f":11,"g":2},
{"t":16.75,"a":18300,"b":5100,"c":1050,"d":90,"e":20,"f":8,"g":5},
{"t":16.85,"a":18000,"b":4300,"c":800,"d":75,"e":12,"f":15,"g":1},
{"t":16.95,"a":17500,"b":4900,"c":1000,"d":85,"e":25,"f":12,"g":3},
{"t":17.05,"a":16900,"b":4000,"c":780,"d":75,"e":18,"f":9,"g":2},
{"t":17.15,"a":16300,"b":4600,"c":990,"d":60,"e":12,"f":13,"g":1},
{"t":17.25,"a":15700,"b":3800,"c":720,"d":85,"e":22,"f":10,"g":4},
{"t":17.35,"a":15100,"b":4300,"c":900,"d":70,"e":15,"f":14,"g":2},
{"t":17.45,"a":14500,"b":3500,"c":640,"d":85,"e":28,"f":8,"g":1},
{"t":17.55,"a":13900,"b":3950,"c":820,"d":70,"e":10,"f":12,"g":3},
{"t":17.65,"a":13400,"b":3250,"c":570,"d":80,"e":18,"f":15,"g":2},
{"t":17.75,"a":12900,"b":3600,"c":790,"d":60,"e":25,"f":10,"g":1},
{"t":17.85,"a":12400,"b":2950,"c":540,"d":80,"e":14,"f":12,"g":3},
{"t":17.95,"a":12000,"b":3300,"c":700,"d":65,"e":20,"f":9,"g":2},
{"t":18.05,"a":12600,"b":2700,"c":510,"d":70,"e":15,"f":13,"g":1},
{"t":18.15,"a":11500,"b":3250,"c":700,"d":85,"e":22,"f":10,"g":4},
{"t":18.25,"a":12500,"b":2600,"c":490,"d":60,"e":12,"f":14,"g":2},
{"t":18.35,"a":11300,"b":3200,"c":680,"d":75,"e":25,"f":8,"g":1},
{"t":18.45,"a":12100,"b":2500,"c":480,"d":55,"e":15,"f":12,"g":3},
{"t":18.55,"a":11400,"b":3100,"c":670,"d":85,"e":20,"f":15,"g":2},
{"t":18.65,"a":12200,"b":2500,"c":460,"d":65,"e":12,"f":9,"g":1},
{"t":18.75,"a":11100,"b":2900,"c":650,"d":80,"e":28,"f":13,"g":4},
{"t":18.85,"a":12100,"b":2400,"c":430,"d":60,"e":16,"f":11,"g":2},
{"t":18.95,"a":11200,"b":2800,"c":620,"d":70,"e":22,"f":14,"g":1},
{"t":19.05,"a":12000,"b":2300,"c":440,"d":80,"e":15,"f":9,"g":3},
{"t":19.15,"a":11300,"b":2800,"c":610,"d":60,"e":25,"f":13,"g":2},
{"t":19.25,"a":12100,"b":2350,"c":430,"d":75,"e":12,"f":10,"g":1},
{"t":19.35,"a":11100,"b":2850,"c":630,"d":65,"e":20,"f":14,"g":4},
{"t":19.45,"a":11900,"b":2500,"c":460,"d":90,"e":16,"f":11,"g":2},
{"t":19.55,"a":11500,"b":3100,"c":650,"d":60,"e":28,"f":1,"g":1},
{"t":19.65,"a":12300,"b":2600,"c":470,"d":85,"e":14,"f":15,"g":3},
{"t":19.75,"a":11300,"b":3200,"c":680,"d":70,"e":20,"f":12,"g":2},
{"t":19.85,"a":12200,"b":2700,"c":490,"d":95,"e":12,"f":9,"g":5},
{"t":19.95,"a":12000,"b":3300,"c":700,"d":60,"e":22,"f":13,"g":1},
{"t":20.05,"a":13000,"b":2800,"c":520,"d":85,"e":18,"f":10,"g":2},
{"t":20.15,"a":12700,"b":3400,"c":740,"d":70,"e":25,"f":14,"g":1},
{"t":20.25,"a":13100,"b":2850,"c":530,"d":95,"e":12,"f":11,"g":4},
{"t":20.35,"a":13600,"b":3600,"c":770,"d":65,"e":20,"f":9,"g":2},
{"t":20.45,"a":13400,"b":2950,"c":550,"d":80,"e":15,"f":15,"g":1},
{"t":20.55,"a":15500,"b":3650,"c":790,"d":70,"e":28,"f":12,"g":3},
{"t":20.65,"a":16000,"b":3100,"c":570,"d":95,"e":16,"f":8,"g":2},
{"t":20.75,"a":15300,"b":3900,"c":810,"d":75,"e":22,"f":13,"g":5},
{"t":20.85,"a":17500,"b":3300,"c":580,"d":60,"e":12,"f":1,"g":1},
{"t":20.95,"a":16500,"b":4000,"c":820,"d":85,"e":25,"f":14,"g":3},
{"t":21.05,"a":17000,"b":3250,"c":600,"d":75,"e":14,"f":10,"g":2},
{"t":21.15,"a":16200,"b":4300,"c":840,"d":95,"e":22,"f":13,"g":1},
{"t":21.25,"a":16800,"b":3450,"c":610,"d":65,"e":16,"f":9,"g":4},
{"t":21.35,"a":17200,"b":4100,"c":880,"d":85,"e":28,"f":15,"g":2},
{"t":21.45,"a":17000,"b":3400,"c":610,"d":70,"e":12,"f":11,"g":1},
{"t":21.55,"a":17800,"b":4250,"c":860,"d":100,"e":20,"f":13,"g":3},
{"t":21.65,"a":18000,"b":3400,"c":620,"d":75,"e":15,"f":8,"g":2},
{"t":21.75,"a":17300,"b":4500,"c":880,"d":90,"e":25,"f":14,"g":5},
{"t":21.85,"a":17000,"b":3600,"c":620,"d":65,"e":12,"f":11,"g":1},
{"t":21.95,"a":16900,"b":4300,"c":820,"d":85,"e":20,"f":13,"g":3},
{"t":22.05,"a":17000,"b":3450,"c":640,"d":75,"e":15,"f":10,"g":2},
{"t":22.15,"a":17300,"b":4250,"c":840,"d":95,"e":25,"f":14,"g":1},
{"t":22.25,"a":16900,"b":3700,"c":680,"d":70,"e":12,"f":11,"g":3},
{"t":22.35,"a":16700,"b":4400,"c":930,"d":80,"e":22,"f":15,"g":2},
{"t":22.45,"a":16500,"b":3550,"c":680,"d":65,"e":16,"f":9,"g":4},
{"t":22.55,"a":16400,"b":4600,"c":960,"d":90,"e":28,"f":13,"g":1},
{"t":22.65,"a":16200,"b":3550,"c":660,"d":75,"e":12,"f":11,"g":3},
{"t":22.75,"a":15900,"b":4250,"c":860,"d":95,"e":20,"f":14,"g":2},
{"t":22.85,"a":15700,"b":3400,"c":620,"d":70,"e":15,"f":10,"g":1},
{"t":22.95,"a":15500,"b":4100,"c":840,"d":80,"e":25,"f":12,"g":4},
{"t":23.05,"a":15300,"b":3300,"c":610,"d":65,"e":16,"f":13,"g":2},
{"t":23.15,"a":15200,"b":4150,"c":810,"d":80,"e":22,"f":10,"g":1},
{"t":23.25,"a":15000,"b":3300,"c":600,"d":70,"e":12,"f":14,"g":3},
{"t":23.35,"a":14900,"b":4000,"c":790,"d":95,"e":20,"f":11,"g":2},
{"t":23.45,"a":14800,"b":3400,"c":620,"d":75,"e":15,"f":13,"g":1},
{"t":23.55,"a":14600,"b":4250,"c":920,"d":85,"e":25,"f":9,"g":4},
{"t":23.65,"a":14500,"b":3450,"c":710,"d":65,"e":18,"f":14,"g":2},
{"t":23.75,"a":14100,"b":3950,"c":850,"d":90,"e":12,"f":11,"g":1},
{"t":23.85,"a":13700,"b":3100,"c":600,"d":60,"e":22,"f":13,"g":3},
{"t":23.95,"a":13200,"b":3650,"c":760,"d":70,"e":15,"f":10,"g":2}
  ]},
  "transform": [{"fold": ["a", "b", "c", "d", "e", "f", "g"], "as": ["size", "n"]}],
  "layer": [
    {
      "mark": {"type": "line", "strokeWidth": 2.2, "clip": true},
      "encoding": {
        "x": {
          "field": "t", "type": "quantitative",
          "scale": {"domain": [0, 24], "nice": false, "zero": false},
          "axis": {
            "orient": "bottom",
            "values": [0,0.2,0.4,0.6,0.8,1,1.2,1.4,1.6,1.8,2,2.2,2.4,2.6,2.8,3,3.2,3.4,3.6,3.8,4,4.2,4.4,4.6,4.8,5,5.2,5.4,5.6,5.8,6,6.2,6.4,6.6,6.8,7,7.2,7.4,7.6,7.8,8,8.2,8.4,8.6,8.8,9,9.2,9.4,9.6,9.8,10,10.2,10.4,10.6,10.8,11,11.2,11.4,11.6,11.8,12,12.2,12.4,12.6,12.8,13,13.2,13.4,13.6,13.8,14,14.2,14.4,14.6,14.8,15,15.2,15.4,15.6,15.8,16,16.2,16.4,16.6,16.8,17,17.2,17.4,17.6,17.8,18,18.2,18.4,18.6,18.8,19,19.2,19.4,19.6,19.8,20,20.2,20.4,20.6,20.8,21,21.2,21.4,21.6,21.8,22,22.2,22.4,22.6,22.8,23,23.2,23.4,23.6,23.8,24],
            "labelExpr": "datum.value % 2 == 0 ? format(datum.value, 'd') : ''",
            "labelFontSize": 60, "labelColor": "#262626", "labelPadding": 35,
            "labelOverlap": false, "labelFlush": false,
            "tickSize": {"condition": {"test": "datum.value % 2 == 0", "value": 18}, "value": 9},
            "tickWidth": 2, "tickColor": "#262626",
            "domainColor": "#262626", "domainWidth": 2,
            "title": "Time (hour EDT)", "titleFontSize": 68, "titleFontWeight": "normal", "titleColor": "#262626",
            "titleX": 814, "titleY": 188, "titleBaseline": "alphabetic",
            "zindex": 1
          }
        },
        "y": {
          "field": "n", "type": "quantitative",
          "scale": {"type": "log", "domain": [1, 2000000], "nice": false},
          "axis": {
            "orient": "left",
            "values": [1,2,3,4,5,6,7,8,9,10,20,30,40,50,60,70,80,90,100,200,300,400,500,600,700,800,900,1000,2000,3000,4000,5000,6000,7000,8000,9000,10000,20000,30000,40000,50000,60000,70000,80000,90000,100000,200000,300000,400000,500000,600000,700000,800000,900000,1000000],
            "labelExpr": "indexof([1,10,100,1000,10000,100000,1000000], datum.value) >= 0 ? '10' : ''",
            "labelFontSize": 62, "labelColor": "#262626", "labelPadding": 49, "labelOffset": 17,
            "labelOverlap": false,
            "tickSize": {"condition": {"test": "indexof([1,10,100,1000,10000,100000,1000000], datum.value) >= 0", "value": 18}, "value": 9},
            "tickWidth": 2, "tickColor": "#262626",
            "domainColor": "#262626", "domainWidth": 2,
            "title": "Number density (counts/liter)", "titleFontSize": 68, "titleFontWeight": "normal", "titleColor": "#262626",
            "titleX": -165, "titleY": 733, "titleBaseline": "alphabetic", "titleAngle": 270,
            "zindex": 1
          }
        },
        "color": {
          "field": "size", "type": "nominal",
          "scale": {"domain": ["a", "b", "c", "d", "e", "f", "g"], "range": ["#0072BD", "#D95319", "#EDB120", "#7E2F8E", "#77AC30", "#4DBEEE", "#A2142F"]},
          "legend": {
            "orient": "none", "legendX": 1358, "legendY": 62, "title": null, "padding": 0,
            "symbolType": "M-4.1,0H4.1", "symbolSize": 1024, "symbolStrokeWidth": 3, "symbolOpacity": 1,
            "labelFontSize": 55, "labelColor": "#000000", "labelAlign": "center", "labelOffset": 106,
            "rowPadding": 17.5,
            "labelExpr": "datum.label == 'a' ? '0.25' : datum.label == 'b' ? '0.35' : datum.label == 'c' ? '0.5' : datum.label == 'd' ? '0.7' : datum.label == 'e' ? '1.3' : datum.label == 'f' ? '2.5' : '4'"
          }
        }
      }
    },
    {
      "mark": {"type": "line", "strokeOpacity": 0, "clip": true},
      "encoding": {
        "x": {
          "field": "t", "type": "quantitative",
          "axis": {
            "orient": "top",
            "values": [0,0.2,0.4,0.6,0.8,1,1.2,1.4,1.6,1.8,2,2.2,2.4,2.6,2.8,3,3.2,3.4,3.6,3.8,4,4.2,4.4,4.6,4.8,5,5.2,5.4,5.6,5.8,6,6.2,6.4,6.6,6.8,7,7.2,7.4,7.6,7.8,8,8.2,8.4,8.6,8.8,9,9.2,9.4,9.6,9.8,10,10.2,10.4,10.6,10.8,11,11.2,11.4,11.6,11.8,12,12.2,12.4,12.6,12.8,13,13.2,13.4,13.6,13.8,14,14.2,14.4,14.6,14.8,15,15.2,15.4,15.6,15.8,16,16.2,16.4,16.6,16.8,17,17.2,17.4,17.6,17.8,18,18.2,18.4,18.6,18.8,19,19.2,19.4,19.6,19.8,20,20.2,20.4,20.6,20.8,21,21.2,21.4,21.6,21.8,22,22.2,22.4,22.6,22.8,23,23.2,23.4,23.6,23.8,24],
            "labels": false,
            "tickSize": {"condition": {"test": "datum.value % 2 == 0", "value": 18}, "value": 9},
            "tickWidth": 2, "tickColor": "#262626",
            "domainColor": "#262626", "domainWidth": 2,
            "title": null, "zindex": 1
          }
        },
        "y": {
          "field": "n", "type": "quantitative",
          "axis": {
            "orient": "right",
            "values": [1,2,3,4,5,6,7,8,9,10,20,30,40,50,60,70,80,90,100,200,300,400,500,600,700,800,900,1000,2000,3000,4000,5000,6000,7000,8000,9000,10000,20000,30000,40000,50000,60000,70000,80000,90000,100000,200000,300000,400000,500000,600000,700000,800000,900000,1000000],
            "labels": false,
            "tickSize": {"condition": {"test": "indexof([1,10,100,1000,10000,100000,1000000], datum.value) >= 0", "value": 18}, "value": 9},
            "tickWidth": 2, "tickColor": "#262626",
            "domainColor": "#262626", "domainWidth": 2,
            "title": null, "zindex": 1
          }
        }
      }
    },
    {
      "mark": {"type": "line", "strokeOpacity": 0, "clip": true},
      "encoding": {
        "x": {"field": "t", "type": "quantitative", "axis": null},
        "y": {
          "field": "n", "type": "quantitative",
          "axis": {
            "orient": "left",
            "values": [1, 10, 100, 1000, 10000, 100000, 1000000],
            "labelExpr": "'' + round(log(datum.value) / LN10)",
            "labelFontSize": 49, "labelColor": "#262626", "labelPadding": 39, "labelOffset": -10,
            "labelOverlap": false,
            "ticks": false, "tickSize": 0, "domain": false,
            "title": null, "zindex": 1
          }
        }
      }
    }
  ],
  "resolve": {"axis": {"x": "independent", "y": "independent"}}
}
